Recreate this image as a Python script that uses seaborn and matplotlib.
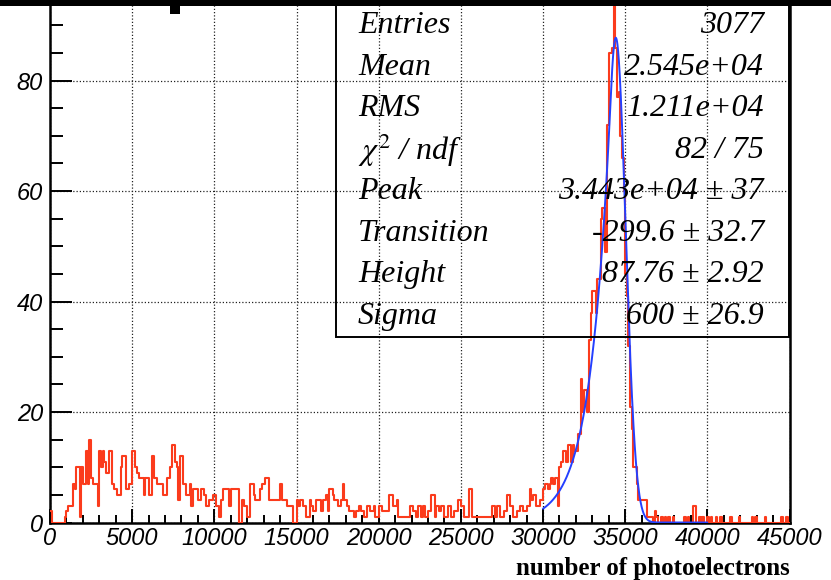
import numpy as np
import pandas as pd
import matplotlib
matplotlib.use("Agg")
import matplotlib.pyplot as plt
from matplotlib.patches import Rectangle
from matplotlib.ticker import MultipleLocator
import seaborn as sns

# ---- histogram: 450 bins of 100 photoelectrons, 0 .. 45000 ----
bin_width = 100
x_min, x_max = 0, 45000

counts_0_10000 = [
    2, 0, 0, 0, 0, 0, 0, 0, 0, 1,
    2, 3, 3, 3, 7, 6, 10, 10, 1, 10,
    7, 7, 13, 7, 15, 8, 7, 7, 7, 3,
    13, 10, 13, 11, 9, 9, 13, 13, 7, 6,
    6, 5, 5, 10, 12, 12, 6, 6, 7, 7,
    13, 13, 10, 9, 8, 8, 8, 5, 8, 8,
    5, 5, 12, 8, 8, 7, 7, 7, 7, 5,
    5, 8, 8, 10, 14, 14, 11, 10, 4, 12,
    12, 7, 7, 5, 5, 7, 3, 6, 6, 6,
    4, 4, 6, 6, 5, 3, 3, 4, 4, 5,
]
counts_10000_20000 = [
    5, 3, 3, 1, 4, 6, 6, 6, 6, 3,
    6, 6, 6, 6, 6, 0, 0, 4, 3, 3,
    1, 1, 7, 7, 5, 4, 4, 4, 6, 7,
    7, 8, 8, 4, 4, 4, 4, 4, 4, 4,
    7, 4, 4, 4, 3, 3, 3, 3, 0, 0,
    4, 3, 4, 4, 3, 3, 1, 1, 4, 3,
    2, 2, 4, 4, 4, 2, 4, 4, 5, 2,
    6, 6, 5, 4, 4, 3, 3, 4, 7, 4,
    4, 3, 2, 2, 2, 1, 2, 2, 3, 2,
    2, 1, 1, 3, 3, 2, 2, 3, 1, 1,
]
counts_20000_30000 = [
    3, 3, 2, 2, 2, 2, 5, 5, 5, 3,
    3, 4, 1, 1, 1, 1, 1, 1, 1, 3,
    3, 2, 2, 1, 3, 3, 1, 3, 1, 1,
    2, 2, 5, 5, 1, 3, 3, 2, 3, 3,
    1, 1, 3, 3, 1, 1, 2, 2, 4, 4,
    3, 3, 1, 1, 1, 6, 6, 1, 1, 1,
    1, 1, 1, 1, 1, 1, 1, 1, 1, 3,
    3, 1, 3, 3, 1, 1, 2, 2, 5, 5,
    3, 3, 1, 1, 2, 2, 3, 3, 2, 2,
    3, 3, 6, 4, 5, 5, 3, 3, 4, 4,
]
counts_30000_40000 = [
    6, 7, 7, 6, 7, 8, 7, 8, 8, 3,
    10, 11, 13, 13, 11, 14, 14, 11, 14, 13,
    13, 16, 16, 26, 20, 24, 24, 20, 33, 38,
    42, 42, 38, 44, 44, 55, 57, 57, 49, 72,
    85, 85, 86, 97, 86, 77, 78, 70, 66, 60,
    45, 41, 32, 21, 17, 10, 10, 7, 4, 4,
    4, 4, 4, 1, 1, 1, 1, 0, 2, 1,
    0, 0, 1, 0, 1, 0, 1, 0, 0, 1,
    0, 0, 0, 0, 0, 0, 1, 0, 1, 0,
    0, 3, 3, 0, 0, 1, 0, 1, 0, 0,
]
counts_40000_45000 = [
    1, 0, 1, 0, 0, 1, 0, 0, 1, 0,
    0, 0, 0, 0, 1, 0, 0, 0, 0, 1,
    0, 0, 0, 0, 0, 0, 0, 1, 0, 1,
    0, 0, 0, 0, 0, 1, 0, 0, 0, 0,
    0, 0, 0, 0, 0, 1, 0, 0, 1, 0,
]

counts = np.array(counts_0_10000 + counts_10000_20000 + counts_20000_30000
                  + counts_30000_40000 + counts_40000_45000, dtype=float)
n_bins = len(counts)
centers = x_min + bin_width * (np.arange(n_bins) + 0.5)
hist_df = pd.DataFrame({"pe": centers, "n": counts})

# ---- fit result (Gaussian core with exponential low-side tail) ----
fit_peak = 3.443e4
fit_transition = -299.6
fit_height = 87.76
fit_sigma = 600.0
fit_range = (30000, 40000)

# ---- statistics box text ----
stat_labels = ["Entries", "Mean", "RMS", r"$\chi^{2}$ / ndf", "Peak",
               "Transition", "Height", "Sigma"]
stat_values = ["3077", "2.545e+04", "1.211e+04", "82 / 75",
               "3.443e+04 \u00b1 37", "-299.6 \u00b1 32.7",
               "87.76 \u00b1 2.92", "600 \u00b1 26.9"]

x_ticks = list(range(0, 45001, 5000))
y_ticks = [0, 20, 40, 60, 80]
x_title = "number of photoelectrons"


def tail_gauss(x, peak, trans, height, sigma):
    d = x - peak
    core = np.exp(-0.5 * d ** 2 / sigma ** 2)
    tail = np.exp(trans ** 2 / (2 * sigma ** 2) - trans * d / sigma ** 2)
    return height * np.where(d < trans, tail, core)


sns.set_style("ticks")
plt.rcParams["font.family"] = ["Liberation Sans", "DejaVu Sans"]
plt.rcParams["mathtext.fontset"] = "stix"
plt.rcParams["text.color"] = "black"
plt.rcParams["xtick.color"] = "black"
plt.rcParams["ytick.color"] = "black"

W, H = 831, 580
fig = plt.figure(figsize=(W / 100, H / 100), dpi=100)
ax_left, ax_right, ax_bottom, ax_top = 50, 789.5, 522.5, 0
ax = fig.add_axes([ax_left / W, (H - ax_bottom) / H,
                   (ax_right - ax_left) / W, (ax_bottom - ax_top) / H])

hist_color = "#fb3b1c"
fit_color = "#2440ff"

sns.histplot(data=hist_df, x="pe", weights="n", bins=n_bins,
             binrange=(x_min, x_max), element="step", fill=False,
             color=hist_color, linewidth=1.5, ax=ax, zorder=3)

xf = np.linspace(fit_range[0], fit_range[1], 2000)
yf = tail_gauss(xf, fit_peak, fit_transition, fit_height, fit_sigma)
sns.lineplot(x=xf, y=yf, color=fit_color, linewidth=1.4, ax=ax, zorder=4)

ax.set_xlim(x_min, x_max)
ax.set_ylim(0, 94.6)
ax.set_xlabel("")
ax.set_ylabel("")

ax.set_xticks(x_ticks)
ax.set_yticks(y_ticks)
ax.xaxis.set_minor_locator(MultipleLocator(1000))
ax.yaxis.set_minor_locator(MultipleLocator(5))

tick_font = dict(family="Liberation Sans", style="italic", size=17,
                 color="black")
ax.set_xticklabels([str(t) for t in x_ticks], fontdict=tick_font)
ax.set_yticklabels([str(t) for t in y_ticks], fontdict=tick_font)

ax.tick_params(axis="both", which="both", direction="in", width=1.4,
               color="black", labelcolor="black", top=False, right=False)
ax.tick_params(axis="x", which="major", length=10, pad=3.5)
ax.tick_params(axis="x", which="minor", length=5.5)
ax.tick_params(axis="y", which="major", length=16, pad=5)
ax.tick_params(axis="y", which="minor", length=9)

ax.grid(True, which="major", color="#222222", linestyle=(0, (1, 1.6)),
        linewidth=0.9, zorder=1)
ax.set_axisbelow(True)

for side in ["left", "bottom", "right"]:
    ax.spines[side].set_linewidth(1.8)
    ax.spines[side].set_color("black")
ax.spines["top"].set_visible(False)

# heavy band along the top edge and the small marker below it
fig.add_artist(Rectangle((0, 1 - 6 / H), 1, 6 / H, transform=fig.transFigure,
                         facecolor="black", edgecolor="none", zorder=10))
fig.add_artist(Rectangle((170 / W, 1 - 14 / H), 10 / W, 14 / H,
                         transform=fig.transFigure, facecolor="black",
                         edgecolor="none", zorder=10))

# statistics box
box_l, box_r, box_t, box_b = 336, 789, 5, 337
fig.add_artist(Rectangle((box_l / W, 1 - box_b / H), (box_r - box_l) / W,
                         (box_b - box_t) / H, transform=fig.transFigure,
                         fill=False, edgecolor="black", linewidth=1.4,
                         zorder=8))
row_h = (box_b - box_t) / len(stat_labels)
stat_font = dict(family="Liberation Serif", style="italic", size=23,
                 color="black")
for i, (lab, val) in enumerate(zip(stat_labels, stat_values)):
    yc = box_t + row_h * (i + 0.5)
    fig.text(358 / W, 1 - yc / H, lab, ha="left", va="center",
             zorder=9, **stat_font)
    fig.text(764 / W, 1 - yc / H, val, ha="right", va="center",
             zorder=9, **stat_font)

fig.text(790 / W, 1 - 568 / H, x_title, ha="right", va="center",
         family="Liberation Serif", weight="bold", size=18, color="black")

fig.savefig("out.png", dpi=100)
